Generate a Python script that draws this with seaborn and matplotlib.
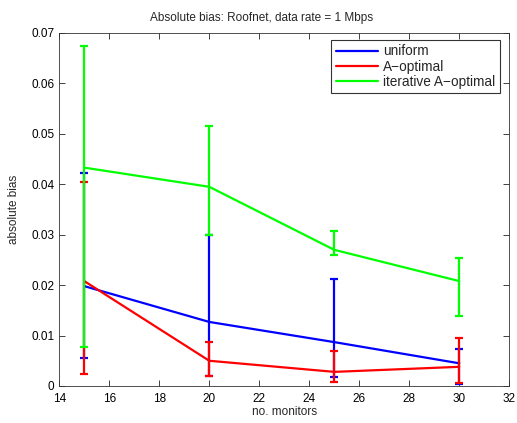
import matplotlib
matplotlib.use("Agg")
import matplotlib.pyplot as plt
import seaborn as sns
import pandas as pd
import numpy as np

monitors = [15, 20, 25, 30]
series_names = ["uniform", "A\u2212optimal", "iterative A\u2212optimal"]
series_colors = ["#0000ff", "#ff0000", "#00ff00"]

uniform_mean = [0.0198, 0.0127, 0.0087, 0.0045]
uniform_low = [0.0055, 0.0020, 0.0018, 0.0004]
uniform_high = [0.0422, 0.0299, 0.0212, 0.0073]

aopt_mean = [0.0208, 0.0050, 0.0028, 0.0038]
aopt_low = [0.0023, 0.0020, 0.0007, 0.0006]
aopt_high = [0.0405, 0.0087, 0.0069, 0.0095]

iter_mean = [0.0433, 0.0395, 0.0270, 0.0208]
iter_low = [0.0078, 0.0299, 0.0259, 0.0139]
iter_high = [0.0675, 0.0515, 0.0307, 0.0254]

means = [uniform_mean, aopt_mean, iter_mean]
lows = [uniform_low, aopt_low, iter_low]
highs = [uniform_high, aopt_high, iter_high]

sns.set_style("ticks")
plt.rcParams["font.family"] = ["Liberation Sans", "DejaVu Sans"]

df = pd.DataFrame({
    "monitors": monitors * 3,
    "bias": uniform_mean + aopt_mean + iter_mean,
    "method": [n for n in series_names for _ in monitors],
})

fig = plt.figure(figsize=(5.17, 4.23), dpi=100)
ax = fig.add_axes([0.1147, 0.0875, 0.8703, 0.8345])

sns.lineplot(data=df, x="monitors", y="bias", hue="method",
             hue_order=series_names, palette=series_colors,
             linewidth=1.6, ax=ax, legend=True, zorder=3)

for m, lo, hi, c in zip(means, lows, highs, series_colors):
    m = np.array(m)
    yerr = [m - np.array(lo), np.array(hi) - m]
    ax.errorbar(monitors, m, yerr=yerr, fmt="none", ecolor=c,
                elinewidth=1.6, capsize=3.2, capthick=1.6, zorder=3)

ax.set_xlim(14, 32)
ax.set_ylim(0, 0.07)
ax.set_xticks(range(14, 33, 2))
ax.set_yticks([0, 0.01, 0.02, 0.03, 0.04, 0.05, 0.06, 0.07])
ax.set_yticklabels(["0", "0.01", "0.02", "0.03", "0.04", "0.05", "0.06", "0.07"])
ax.tick_params(direction="in", top=True, right=True, labelsize=8.5,
               length=4, width=0.6, colors="#222222", labelcolor="black")
ax.tick_params(axis="x", pad=5)
for s in ax.spines.values():
    s.set_linewidth(0.6)
    s.set_color("#333333")

ax.set_xlabel("no. monitors", fontsize=8.5, labelpad=1)
ax.set_ylabel("absolute bias", fontsize=8.5, labelpad=8)
fig.text(262 / 517, 1 - 18 / 423, "Absolute bias: Roofnet, data rate = 1 Mbps",
         fontsize=8.5, ha="center", va="center")

leg = ax.legend(loc="upper right", bbox_to_anchor=(0.979, 0.980), fontsize=9.8,
                frameon=True, fancybox=False, edgecolor="black",
                handlelength=3.1, borderpad=0.32, labelspacing=0.1,
                handletextpad=0.4, borderaxespad=0.0)
leg.get_frame().set_linewidth(0.8)
for line in leg.get_lines():
    line.set_linewidth(1.6)

fig.savefig("out.png", dpi=100)
